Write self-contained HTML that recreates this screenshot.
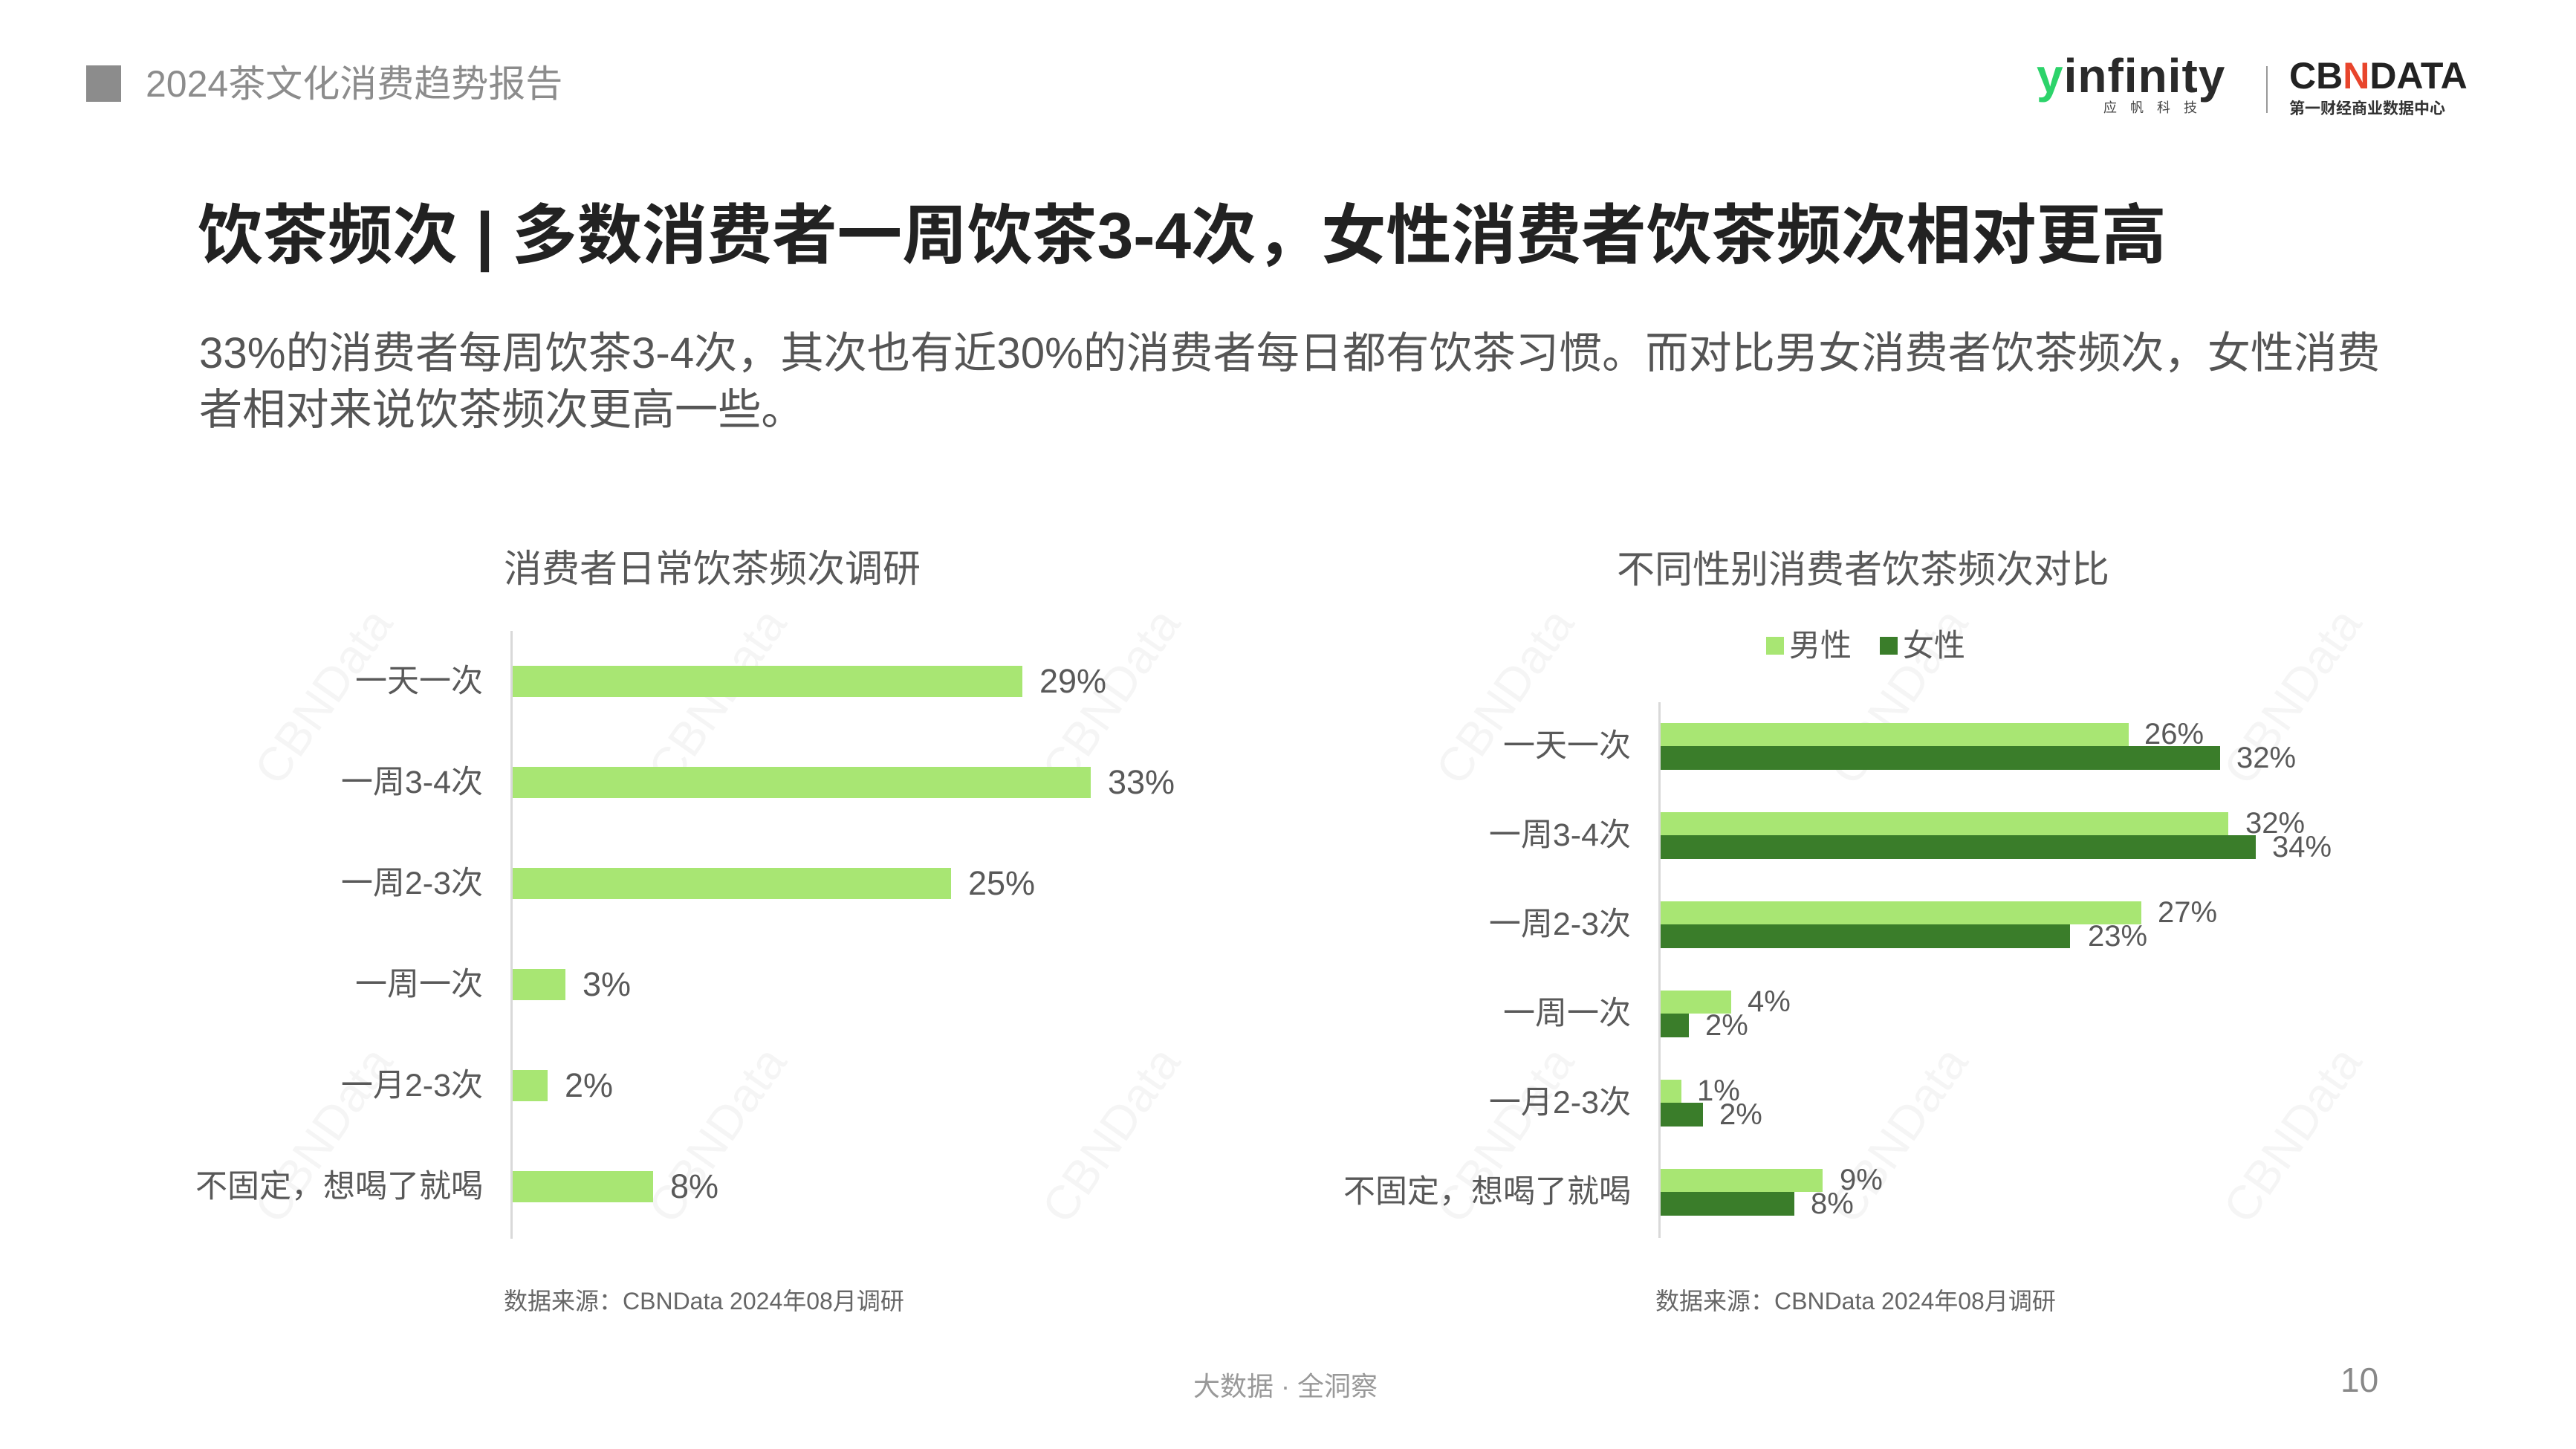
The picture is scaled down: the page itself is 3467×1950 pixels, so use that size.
<!DOCTYPE html>
<html><head><meta charset="utf-8">
<style>
*{margin:0;padding:0;box-sizing:border-box}
body{width:3467px;height:1950px;background:#fff;position:relative;overflow:hidden;font-family:"Liberation Sans","Noto Sans CJK SC",sans-serif;color:#595959}
.a{position:absolute;white-space:nowrap}
.lab{position:absolute;font-size:43px;line-height:60px;height:60px;text-align:right;color:#595959}
.val{position:absolute;font-size:45px;line-height:60px;height:60px;color:#595959}
.val2{position:absolute;font-size:40px;line-height:50px;height:50px;color:#595959}
.bl{position:absolute;background:#a8e673}
.bd{position:absolute;background:#3a7d2a}
.wm{position:absolute;font-size:64px;color:#f5f5f5;transform:rotate(-55deg);white-space:nowrap}
</style></head><body>
<div class="wm" style="left:300px;top:900px">CBNData</div>
<div class="wm" style="left:830px;top:900px">CBNData</div>
<div class="wm" style="left:1360px;top:900px">CBNData</div>
<div class="wm" style="left:1890px;top:900px">CBNData</div>
<div class="wm" style="left:2420px;top:900px">CBNData</div>
<div class="wm" style="left:2950px;top:900px">CBNData</div>
<div class="wm" style="left:300px;top:1490px">CBNData</div>
<div class="wm" style="left:830px;top:1490px">CBNData</div>
<div class="wm" style="left:1360px;top:1490px">CBNData</div>
<div class="wm" style="left:1890px;top:1490px">CBNData</div>
<div class="wm" style="left:2420px;top:1490px">CBNData</div>
<div class="wm" style="left:2950px;top:1490px">CBNData</div>

<div class="a" style="left:116px;top:88px;width:47px;height:49px;background:#8c8c8c"></div>
<div class="a" style="left:196px;top:83px;font-size:50px;line-height:60px;color:#8c8c8c">2024茶文化消费趋势报告</div>
<div class="a" style="left:2741px;top:62px;font-size:64px;line-height:80px;font-weight:bold;color:#2a2a2a;letter-spacing:1px"><span style="color:#2cd36a">y</span>infinity</div>
<div class="a" style="left:2831px;top:132px;font-size:18px;line-height:26px;color:#444;letter-spacing:18px">应帆科技</div>
<div class="a" style="left:3050px;top:89px;width:2px;height:63px;background:#999"></div>
<div class="a" style="left:3081px;top:73px;font-size:50px;line-height:58px;font-weight:bold;color:#222">CB<span style="color:#e8452c">N</span>DATA</div>
<div class="a" style="left:3081px;top:133px;font-size:21px;line-height:28px;color:#333;font-weight:bold">第一财经商业数据中心</div>

<div class="a" style="left:266px;top:265px;font-size:87.5px;line-height:104px;font-weight:bold;color:#222">饮茶频次 | 多数消费者一周饮茶3-4次，女性消费者饮茶频次相对更高</div>
<div class="a" style="left:268px;top:438px;font-size:58.2px;line-height:76px;color:#555">33%的消费者每周饮茶3-4次，其次也有近30%的消费者每日都有饮茶习惯。而对比男女消费者饮茶频次，女性消费<br>者相对来说饮茶频次更高一些。</div>

<div class="a" style="left:678px;top:736px;font-size:51px;line-height:60px;color:#595959">消费者日常饮茶频次调研</div>
<div class="a" style="left:687px;top:849px;width:3px;height:818px;background:#d9d9d9"></div>
<div class="lab" style="left:200px;width:450px;top:887px">一天一次</div>
<div class="lab" style="left:200px;width:450px;top:1023px">一周3-4次</div>
<div class="lab" style="left:200px;width:450px;top:1159px">一周2-3次</div>
<div class="lab" style="left:200px;width:450px;top:1295px">一周一次</div>
<div class="lab" style="left:200px;width:450px;top:1431px">一月2-3次</div>
<div class="lab" style="left:200px;width:450px;top:1567px">不固定，想喝了就喝</div>
<div class="bl" style="left:690px;top:896px;width:686px;height:42px"></div>
<div class="bl" style="left:690px;top:1032px;width:778px;height:42px"></div>
<div class="bl" style="left:690px;top:1168px;width:590px;height:42px"></div>
<div class="bl" style="left:690px;top:1304px;width:71px;height:42px"></div>
<div class="bl" style="left:690px;top:1440px;width:47px;height:42px"></div>
<div class="bl" style="left:690px;top:1576px;width:189px;height:42px"></div>
<div class="val" style="left:1399px;top:887px">29%</div>
<div class="val" style="left:1491px;top:1023px">33%</div>
<div class="val" style="left:1303px;top:1159px">25%</div>
<div class="val" style="left:784px;top:1295px">3%</div>
<div class="val" style="left:760px;top:1431px">2%</div>
<div class="val" style="left:902px;top:1567px">8%</div>
<div class="a" style="left:678px;top:1731px;font-size:32px;line-height:40px;color:#666">数据来源：CBNData 2024年08月调研</div>

<div class="a" style="left:2176px;top:736px;font-size:51px;line-height:62px;color:#595959">不同性别消费者饮茶频次对比</div>
<div class="a" style="left:2377px;top:857px;width:24px;height:24px;background:#a8e673"></div>
<div class="a" style="left:2408px;top:842px;font-size:42px;line-height:54px;color:#595959">男性</div>
<div class="a" style="left:2530px;top:857px;width:24px;height:24px;background:#3a7d2a"></div>
<div class="a" style="left:2561px;top:842px;font-size:42px;line-height:54px;color:#595959">女性</div>
<div class="a" style="left:2232px;top:945px;width:3px;height:721px;background:#d9d9d9"></div>
<div class="lab" style="left:1700px;width:495px;top:974px">一天一次</div>
<div class="lab" style="left:1700px;width:495px;top:1094px">一周3-4次</div>
<div class="lab" style="left:1700px;width:495px;top:1214px">一周2-3次</div>
<div class="lab" style="left:1700px;width:495px;top:1334px">一周一次</div>
<div class="lab" style="left:1700px;width:495px;top:1454px">一月2-3次</div>
<div class="lab" style="left:1700px;width:495px;top:1574px">不固定，想喝了就喝</div>

<div class="bl" style="left:2235px;top:973px;width:630px;height:31px"></div>
<div class="bd" style="left:2235px;top:1004px;width:753px;height:32px"></div>
<div class="bl" style="left:2235px;top:1093px;width:764px;height:31px"></div>
<div class="bd" style="left:2235px;top:1124px;width:801px;height:32px"></div>
<div class="bl" style="left:2235px;top:1213px;width:647px;height:31px"></div>
<div class="bd" style="left:2235px;top:1244px;width:551px;height:32px"></div>
<div class="bl" style="left:2235px;top:1333px;width:95px;height:31px"></div>
<div class="bd" style="left:2235px;top:1364px;width:38px;height:32px"></div>
<div class="bl" style="left:2235px;top:1453px;width:28px;height:31px"></div>
<div class="bd" style="left:2235px;top:1484px;width:57px;height:32px"></div>
<div class="bl" style="left:2235px;top:1573px;width:218px;height:31px"></div>
<div class="bd" style="left:2235px;top:1604px;width:180px;height:32px"></div>

<div class="val2" style="left:2886px;top:963px">26%</div>
<div class="val2" style="left:3010px;top:995px">32%</div>
<div class="val2" style="left:3022px;top:1083px">32%</div>
<div class="val2" style="left:3058px;top:1115px">34%</div>
<div class="val2" style="left:2904px;top:1203px">27%</div>
<div class="val2" style="left:2810px;top:1235px">23%</div>
<div class="val2" style="left:2352px;top:1323px">4%</div>
<div class="val2" style="left:2295px;top:1355px">2%</div>
<div class="val2" style="left:2284px;top:1443px">1%</div>
<div class="val2" style="left:2314px;top:1475px">2%</div>
<div class="val2" style="left:2476px;top:1563px">9%</div>
<div class="val2" style="left:2437px;top:1595px">8%</div>
<div class="a" style="left:2228px;top:1731px;font-size:32px;line-height:40px;color:#666">数据来源：CBNData 2024年08月调研</div>

<div class="a" style="left:1606px;top:1860px;font-size:36px;line-height:44px;color:#999;margin-top:-16px">大数据 · 全洞察</div>
<div class="a" style="left:3150px;top:1830px;font-size:46px;line-height:54px;color:#888">10</div>
</body></html>
